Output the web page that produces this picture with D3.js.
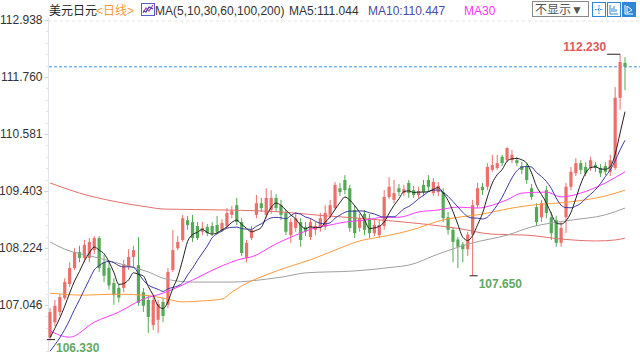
<!DOCTYPE html>
<html><head><meta charset="utf-8">
<script src="https://cdn.jsdelivr.net/npm/d3@7"></script>
<style>
body{margin:0;background:#fff}
svg{display:block}
text{font-family:"Liberation Sans","Noto Sans CJK SC",sans-serif}
</style>
</head><body>
<svg id="c" width="640" height="360"></svg>
<script>
// ---- data (USD/JPY daily) ----
const opens=[106.38,106.69,106.90,107.19,107.48,107.81,108.14,108.02,108.02,108.18,
108.43,107.93,107.81,107.50,107.40,107.40,107.83,108.04,107.87,107.31,
107.15,106.63,106.74,107.11,107.05,107.77,108.22,108.39,108.80,108.76,
108.68,108.56,108.66,108.68,108.70,108.60,108.68,108.91,109.11,108.76,
108.02,108.43,108.91,109.15,108.91,109.01,109.26,109.11,108.95,108.49,
108.64,108.76,108.66,108.45,108.60,108.64,108.66,108.91,109.05,109.46,
109.63,109.46,109.01,108.64,108.93,108.84,108.53,108.49,108.68,109.28,
109.22,109.46,109.36,109.57,109.42,109.32,109.53,109.63,109.36,109.38,
109.38,108.86,108.60,108.40,108.30,108.20,108.50,109.11,109.49,109.49,
109.84,109.88,110.11,110.04,110.04,110.04,109.92,109.90,109.46,109.07,
108.86,109.42,108.86,108.80,108.33,108.86,109.49,109.77,109.98,109.90,
109.88,109.94,109.88,109.92,109.80,109.88,111.33,112.05];
const highs=[106.98,107.15,107.27,107.60,107.93,108.22,108.27,108.39,108.43,108.47,
108.47,108.08,107.93,107.60,107.48,107.98,108.20,108.27,108.45,107.40,
107.25,107.21,107.15,107.19,107.81,108.60,108.47,108.91,108.89,108.91,
108.76,108.76,108.72,108.76,108.89,108.82,109.05,109.09,109.26,108.84,
108.39,108.68,109.32,109.26,109.46,109.42,109.34,109.22,109.01,108.84,
108.97,108.84,108.76,108.84,108.76,108.95,109.11,109.22,109.59,109.57,
109.73,109.53,109.11,108.93,109.01,108.93,108.80,108.80,109.42,109.69,
109.63,109.55,109.53,109.63,109.51,109.49,109.63,109.73,109.67,109.59,
109.46,108.97,108.66,108.45,108.35,108.56,109.22,109.57,109.57,109.98,
110.15,110.15,110.15,110.31,110.25,110.11,110.00,109.96,109.55,109.15,
109.22,109.51,108.97,108.89,108.76,109.57,109.90,110.08,110.04,110.00,
110.11,110.00,109.96,110.00,110.15,111.55,112.23,112.17];
const lows=[106.33,106.61,106.82,107.15,107.42,107.77,107.93,107.93,107.93,108.10,
107.73,107.52,107.36,107.05,107.10,107.31,107.77,107.81,107.03,106.90,
106.47,106.53,106.47,106.69,106.98,107.73,108.18,108.35,108.60,108.35,
108.39,108.49,108.47,108.47,108.51,108.56,108.64,108.84,108.70,108.06,
107.93,108.39,108.84,108.97,108.84,108.93,108.97,108.80,108.49,108.33,
108.56,108.25,108.47,108.39,108.49,108.56,108.60,108.84,109.01,109.30,
109.34,108.56,108.43,108.56,108.49,108.43,108.47,108.43,108.60,109.24,
109.15,109.30,109.30,109.26,109.26,109.26,109.30,109.38,109.30,109.30,
108.76,108.50,107.93,107.81,107.93,108.06,107.65,109.05,109.32,109.42,
109.80,109.84,109.92,110.00,109.98,109.92,109.75,109.55,109.22,108.68,
108.76,108.84,108.39,108.25,108.25,108.53,109.42,109.71,109.75,109.71,
109.82,109.80,109.69,109.73,109.71,109.84,111.08,111.49];
const closes=[106.90,107.03,107.21,107.52,107.81,108.14,108.02,108.29,108.35,108.43,
107.81,107.65,107.45,107.25,107.20,107.89,108.04,108.18,107.09,107.03,
106.80,107.15,107.07,106.82,107.73,108.18,108.35,108.84,108.70,108.43,
108.43,108.64,108.53,108.53,108.56,108.74,108.95,108.99,108.76,108.12,
108.33,108.60,109.15,109.05,109.26,109.26,109.05,108.91,108.56,108.76,
108.84,108.39,108.56,108.76,108.68,108.84,108.95,109.11,109.53,109.38,
109.42,108.64,108.53,108.84,108.60,108.53,108.70,108.70,109.28,109.49,
109.36,109.38,109.44,109.36,109.32,109.40,109.38,109.49,109.59,109.51,
108.84,108.60,108.35,108.25,108.20,108.50,109.11,109.46,109.42,109.90,
109.94,109.98,109.98,110.29,110.15,109.98,109.84,109.63,109.28,108.76,
109.15,108.95,108.53,108.33,108.64,109.49,109.80,109.98,109.84,109.77,
110.04,109.88,109.77,109.80,110.04,111.33,112.07,111.97];
// closes before the visible window (needed for MA5 / MA10)
const priorCloses=[105.70,105.75,105.80,105.85,105.95,106.05,106.15,106.30,106.45];
// longer moving averages: [candle index, value]
const ma30=[[0,106.51],[4,106.38],[9,106.69],[14,106.90],[19,107.17],[23,107.29],[27,107.46],[29,107.56],[34,107.81],[39,108.00],[41,108.04],[46,108.31],[50,108.49],[54,108.64],[57,108.70],[60,108.76],[64,108.80],[68,108.86],[71,108.86],[75,108.97],[79,109.01],[83,109.07],[87,109.05],[90,109.11],[93,109.22],[96,109.36],[101,109.38],[104,109.28],[108,109.36],[113,109.57],[117,109.80]];
const ma60=[[0,107.29],[7,107.25],[13,107.27],[19,107.25],[23,107.19],[27,107.11],[31,107.13],[35,107.17],[37,107.31],[39,107.44],[44,107.67],[49,107.85],[53,107.98],[58,108.18],[63,108.37],[67,108.45],[71,108.53],[75,108.64],[79,108.78],[83,108.86],[87,108.91],[94,109.05],[98,109.11],[106,109.18],[113,109.30],[117,109.42]];
const ma100=[[0,108.35],[3,108.20],[9,108.04],[16,107.85],[20,107.73],[23,107.60],[26,107.54],[29,107.52],[37,107.52],[44,107.58],[47,107.62],[52,107.71],[62,107.75],[70,107.83],[73,107.87],[79,108.10],[86,108.33],[93,108.49],[98,108.66],[106,108.80],[113,108.91],[117,109.05]];
const ma200=[[0,109.57],[6,109.36],[13,109.19],[20,109.07],[23,109.03],[36,109.01],[47,108.97],[56,108.89],[63,108.84],[70,108.78],[76,108.72],[83,108.63],[90,108.51],[97,108.49],[104,108.41],[111,108.37],[115,108.39],[117,108.43]];
const tickValues=[107.046,108.224,109.403,110.581,111.760,112.938];
const tickLabels=["107.046","108.224","109.403","110.581","111.760","112.938"];
const lastPrice=111.97;
const hiMark={i:116,v:112.23,label:"112.230"};
const loMarks=[{i:0,v:106.33,label:"106.330"},{i:86,v:107.65,label:"107.650"}];
const header={title:"美元日元",period:"<日线>",ma:"MA(5,10,30,60,100,200)",ma5:"MA5:111.044",ma10:"MA10:110.447",ma30:"MA30",btn:"不显示▼"};

// ---- drawing ----
const svg=d3.select("#c");
const n=closes.length;
const x=d3.scalePoint().domain(d3.range(n)).range([50,625]);
const y=d3.scaleLinear().domain([107.046,112.938]).range([305,20]);
const UP="#ec6f6a", DOWN="#55a956";

// top dashed grid
svg.append("line").attr("x1",48).attr("x2",640).attr("y1",y(112.938)+1).attr("y2",y(112.938)+1)
  .attr("stroke","#e4e4e4").attr("stroke-dasharray","3,3");

// left axis
svg.append("line").attr("x1",48.5).attr("x2",48.5).attr("y1",18).attr("y2",352).attr("stroke","#dfe5ec");
const minor=d3.range(107.046-1.1784,112.938,1.1784/5);
svg.append("g").selectAll("line").data(minor).join("line")
  .attr("x1",46).attr("x2",48).attr("y1",d=>Math.round(y(d))+0.5).attr("y2",d=>Math.round(y(d))+0.5)
  .attr("stroke","#e2e6ea");
const yAxis=d3.axisLeft(y).tickValues(tickValues).tickFormat((d,i)=>tickLabels[i]).tickSize(4).tickPadding(2);
const ga=svg.append("g").attr("transform","translate(48.5,0)").call(yAxis);
ga.select(".domain").remove();
ga.selectAll(".tick line").attr("stroke","#c8d4e0");
ga.selectAll(".tick text").attr("fill","#333").attr("font-size",12)
  .attr("font-family",'"Liberation Sans",sans-serif');

// last price dashed line
svg.append("line").attr("x1",49).attr("x2",640).attr("y1",y(lastPrice)).attr("y2",y(lastPrice))
  .attr("stroke","#3d95f0").attr("stroke-dasharray","3,2").attr("stroke-width",1);

// candles
const cd=closes.map((c,i)=>({i,o:opens[i],h:highs[i],l:lows[i],c}));
const gc=svg.append("g");
gc.selectAll("line").data(cd).join("line")
  .attr("x1",d=>x(d.i)).attr("x2",d=>x(d.i))
  .attr("y1",d=>y(d.h)).attr("y2",d=>y(d.l))
  .attr("stroke",d=>d.c>=d.o?UP:DOWN).attr("stroke-width",1);
gc.selectAll("rect").data(cd).join("rect")
  .attr("x",d=>x(d.i)-1.6).attr("width",3.2)
  .attr("y",d=>y(Math.max(d.o,d.c)))
  .attr("height",d=>Math.max(1,Math.abs(y(d.o)-y(d.c))))
  .attr("fill",d=>d.c>=d.o?UP:DOWN);

// moving averages
const all=priorCloses.concat(closes), off=priorCloses.length;
function ma(p){return closes.map((c,i)=>[i,d3.mean(all.slice(i+off-p+1,i+off+1))]);}
const line=d3.line().x(d=>x(d[0])).y(d=>y(d[1])).curve(d3.curveMonotoneX);
const series=[[ma200,"#e4706b"],[ma100,"#a0a0a0"],[ma60,"#ff9a3c"],[ma30,"#ff3cff"],[ma(10),"#3a3aa8"],[ma(5),"#222"]];
series.forEach(([d,col])=>svg.append("path").attr("d",line(d)).attr("fill","none").attr("stroke",col).attr("stroke-width",1));

// high / low markers
svg.append("line").attr("x1",x(hiMark.i)-13).attr("x2",x(hiMark.i)).attr("y1",y(hiMark.v)).attr("y2",y(hiMark.v)).attr("stroke","#222");
svg.append("text").attr("x",x(hiMark.i)-14).attr("y",y(hiMark.v)-3).attr("text-anchor","end")
  .attr("font-size",12).attr("font-weight","bold").attr("fill","#e05a5a").text(hiMark.label);
loMarks.forEach(m=>{
  svg.append("line").attr("x1",x(m.i)-3).attr("x2",x(m.i)+5).attr("y1",y(m.v)).attr("y2",y(m.v)).attr("stroke","#222");
  svg.append("text").attr("x",x(m.i)+6).attr("y",y(m.v)+12).attr("font-size",12).attr("font-weight","bold")
    .attr("fill","#63a85f").text(m.label);
});

// header
const hy=15;
svg.append("text").attr("x",49).attr("y",hy).attr("font-size",12).attr("fill","#222").text(header.title);
svg.append("text").attr("x",96).attr("y",hy).attr("font-size",12).attr("fill","#f39a37").text(header.period);
const ic=svg.append("g").attr("transform","translate(141,3)");
ic.append("rect").attr("x",0.5).attr("y",0.5).attr("width",13).attr("height",12).attr("fill","#fff").attr("stroke","#5b5bd0");
ic.append("polyline").attr("points","2,10 5,5 8,8 12,2").attr("fill","none").attr("stroke","#c040c0").attr("stroke-width",1.2);
ic.append("polyline").attr("points","2,8 5,9 8,4 12,6").attr("fill","none").attr("stroke","#3a3aa8").attr("stroke-width",1.2);
svg.append("text").attr("x",155).attr("y",hy).attr("font-size",12).attr("fill","#333").text(header.ma);
svg.append("text").attr("x",289).attr("y",hy).attr("font-size",12).attr("fill","#333").text(header.ma5);
svg.append("text").attr("x",368).attr("y",hy).attr("font-size",12).attr("fill","#4a4aa8").text(header.ma10);
svg.append("text").attr("x",464).attr("y",hy).attr("font-size",12).attr("fill","#ff33ff").text(header.ma30);
// button and icons
svg.append("rect").attr("x",532.5).attr("y",1.5).attr("width",56).attr("height",15).attr("fill","#fff").attr("stroke","#8a8a8a");
svg.append("text").attr("x",535).attr("y",14).attr("font-size",12).attr("fill","#555").text(header.btn);
[592,607,622].forEach((px,k)=>{
  const g=svg.append("g").attr("transform",`translate(${px},2)`);
  g.append("rect").attr("x",0.5).attr("y",0.5).attr("width",13).attr("height",14)
    .attr("fill",k===2?"#2f86d8":"#fff").attr("stroke","#2f86d8");
  const c=k===2?"#fff":"#2f86d8";
  if(k===0){g.append("path").attr("d","M7 3V12M3 7.5H11").attr("stroke",c).attr("stroke-dasharray","1.5,1");}
  if(k===1){g.append("path").attr("d","M3 3V12H11M5 10V6M7 10V4M9 10V7").attr("stroke",c).attr("fill","none");}
  if(k===2){g.append("path").attr("d","M3 3V12H11M5 4L10 8L5 11Z").attr("stroke",c).attr("fill","none");}
});
</script>
</body></html>
